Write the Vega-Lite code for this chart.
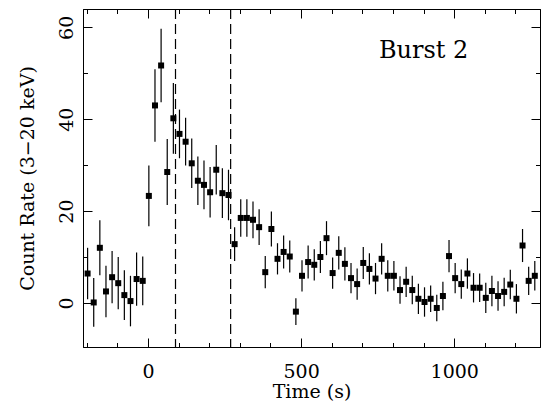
{
  "$schema": "https://vega.github.io/schema/vega-lite/v6.json",
  "autosize": {"type": "none"},
  "padding": {"left": 83, "top": 9, "right": 1, "bottom": 55},
  "width": 457,
  "height": 338,
  "background": "white",
  "config": {
    "view": {"stroke": "black", "strokeWidth": 1},
    "axis": {
      "grid": false,
      "domainColor": "black",
      "tickColor": "black",
      "tickWidth": 1,
      "labelColor": "black",
      "titleColor": "black",
      "labelFont": "DejaVu Serif",
      "titleFont": "DejaVu Serif",
      "labelFontSize": 19,
      "titleFontSize": 19,
      "titleFontWeight": "normal",
      "labelOverlap": false,
      "labelFlush": false
    },
    "axisLeft": {"labelAngle": 270}
  },
  "datasets": {
    "lc": [
      {"t": -197, "r": 6.4, "e": 5.6},
      {"t": -177, "r": 0.1, "e": 5.3},
      {"t": -157, "r": 12.0, "e": 6.0},
      {"t": -137, "r": 2.5, "e": 5.6},
      {"t": -117, "r": 5.6, "e": 5.7},
      {"t": -97, "r": 4.3, "e": 5.7},
      {"t": -77, "r": 1.7, "e": 5.4},
      {"t": -57, "r": 0.4, "e": 5.5},
      {"t": -37, "r": 5.2, "e": 5.8},
      {"t": -17, "r": 4.8, "e": 5.3},
      {"t": 3, "r": 23.3, "e": 6.6},
      {"t": 23, "r": 43.0, "e": 7.9},
      {"t": 43, "r": 51.7, "e": 8.0},
      {"t": 63, "r": 28.5, "e": 7.2},
      {"t": 83, "r": 40.2, "e": 7.7},
      {"t": 103, "r": 36.8, "e": 5.3},
      {"t": 123, "r": 35.1, "e": 5.2},
      {"t": 143, "r": 30.4, "e": 5.4},
      {"t": 163, "r": 26.6, "e": 5.3},
      {"t": 183, "r": 25.7, "e": 5.3},
      {"t": 203, "r": 24.1, "e": 5.5},
      {"t": 223, "r": 29.0, "e": 5.4},
      {"t": 243, "r": 23.9, "e": 5.4},
      {"t": 263, "r": 23.5, "e": 5.5},
      {"t": 283, "r": 12.8, "e": 3.7},
      {"t": 303, "r": 18.5, "e": 4.1},
      {"t": 323, "r": 18.5, "e": 4.1},
      {"t": 343, "r": 18.1, "e": 4.0},
      {"t": 363, "r": 16.5, "e": 3.9},
      {"t": 383, "r": 6.7, "e": 3.5},
      {"t": 403, "r": 16.1, "e": 3.8},
      {"t": 423, "r": 9.6, "e": 3.4},
      {"t": 443, "r": 11.1, "e": 3.6},
      {"t": 463, "r": 10.1, "e": 3.5},
      {"t": 483, "r": -1.9, "e": 2.9},
      {"t": 503, "r": 5.9, "e": 3.4},
      {"t": 523, "r": 8.9, "e": 3.6},
      {"t": 543, "r": 8.3, "e": 3.4},
      {"t": 563, "r": 10.0, "e": 3.5},
      {"t": 583, "r": 14.1, "e": 3.7},
      {"t": 603, "r": 6.5, "e": 3.4},
      {"t": 623, "r": 10.9, "e": 3.6},
      {"t": 643, "r": 8.5, "e": 3.6},
      {"t": 663, "r": 5.4, "e": 3.3},
      {"t": 683, "r": 4.1, "e": 3.4},
      {"t": 703, "r": 8.7, "e": 3.5},
      {"t": 723, "r": 7.4, "e": 3.4},
      {"t": 743, "r": 5.3, "e": 3.4},
      {"t": 763, "r": 9.6, "e": 3.4},
      {"t": 783, "r": 5.9, "e": 3.4},
      {"t": 803, "r": 5.9, "e": 3.2},
      {"t": 823, "r": 2.8, "e": 3.0},
      {"t": 843, "r": 4.6, "e": 3.3},
      {"t": 863, "r": 2.8, "e": 3.1},
      {"t": 883, "r": 0.9, "e": 3.3},
      {"t": 903, "r": 0.2, "e": 3.2},
      {"t": 923, "r": 0.9, "e": 2.9},
      {"t": 943, "r": -1.1, "e": 2.9},
      {"t": 963, "r": 1.5, "e": 3.1},
      {"t": 983, "r": 10.2, "e": 3.5},
      {"t": 1003, "r": 5.4, "e": 3.3},
      {"t": 1023, "r": 4.1, "e": 3.2},
      {"t": 1043, "r": 6.4, "e": 3.3},
      {"t": 1063, "r": 3.3, "e": 3.2},
      {"t": 1083, "r": 3.3, "e": 3.1},
      {"t": 1103, "r": 1.1, "e": 3.3},
      {"t": 1123, "r": 2.6, "e": 3.3},
      {"t": 1143, "r": 1.5, "e": 3.2},
      {"t": 1163, "r": 2.4, "e": 3.1},
      {"t": 1183, "r": 4.0, "e": 3.2},
      {"t": 1203, "r": 0.9, "e": 3.2},
      {"t": 1223, "r": 12.5, "e": 3.6},
      {"t": 1243, "r": 4.8, "e": 3.1},
      {"t": 1263, "r": 5.9, "e": 3.2}
    ],
    "marks": [{"t": 90}, {"t": 270}],
    "label": [{"t": 900, "r": 53.4, "txt": "Burst 2"}]
  },
  "resolve": {"axis": {"x": "independent", "y": "independent"}},
  "layer": [
    {
      "data": {"name": "lc"},
      "mark": {"type": "errorbar", "ticks": false, "rule": {"color": "black", "strokeWidth": 1.2}},
      "encoding": {
        "x": {
          "field": "t", "type": "quantitative",
          "scale": {"domain": [-212, 1280], "nice": false, "zero": false},
          "axis": {
            "orient": "top",
            "title": null,
            "labels": false,
            "values": [-200, -100, 0, 100, 200, 300, 400, 500, 600, 700, 800, 900, 1000, 1100, 1200],
            "tickSize": {"condition": {"test": "datum.value % 500 === 0", "value": -9}, "value": -4.5}
          }
        },
        "y": {
          "field": "r", "type": "quantitative",
          "scale": {"domain": [-9.6, 64], "nice": false, "zero": false},
          "axis": {
            "orient": "right",
            "title": null,
            "labels": false,
            "values": [0, 10, 20, 30, 40, 50, 60],
            "tickSize": {"condition": {"test": "datum.value % 20 === 0", "value": -9}, "value": -4.5}
          }
        },
        "yError": {"field": "e"}
      }
    },
    {
      "data": {"name": "lc"},
      "mark": {"type": "square", "size": 36, "color": "black", "opacity": 1},
      "encoding": {
        "x": {
          "field": "t", "type": "quantitative",
          "axis": {
            "orient": "bottom",
            "title": "Time (s)",
            "format": "d",
            "values": [-200, -100, 0, 100, 200, 300, 400, 500, 600, 700, 800, 900, 1000, 1100, 1200],
            "labelExpr": "datum.value % 500 === 0 ? datum.label : ''",
            "tickSize": {"condition": {"test": "datum.value % 500 === 0", "value": -9}, "value": -4.5},
            "labelPadding": 24,
            "titlePadding": -3
          }
        },
        "y": {
          "field": "r", "type": "quantitative",
          "axis": {
            "orient": "left",
            "title": "Count Rate (3−20 keV)",
            "format": "d",
            "values": [0, 10, 20, 30, 40, 50, 60],
            "labelExpr": "datum.value % 20 === 0 ? datum.label : ''",
            "tickSize": {"condition": {"test": "datum.value % 20 === 0", "value": -9}, "value": -4.5},
            "labelAngle": 270,
            "labelAlign": "center",
            "labelBaseline": "alphabetic",
            "labelPadding": 20,
            "titlePadding": 15,
            "encode": {"labels": {"update": {"angle": {"value": 270}}}}
          }
        }
      }
    },
    {
      "data": {"name": "marks"},
      "mark": {"type": "rule", "color": "black", "strokeWidth": 1.2, "strokeDash": [10, 5]},
      "encoding": {
        "x": {"field": "t", "type": "quantitative", "axis": null}
      }
    },
    {
      "data": {"name": "label"},
      "mark": {"type": "text", "font": "DejaVu Serif", "fontSize": 24, "align": "center", "baseline": "alphabetic", "color": "black"},
      "encoding": {
        "x": {"field": "t", "type": "quantitative", "axis": null},
        "y": {"field": "r", "type": "quantitative", "axis": null},
        "text": {"field": "txt"}
      }
    }
  ]
}
